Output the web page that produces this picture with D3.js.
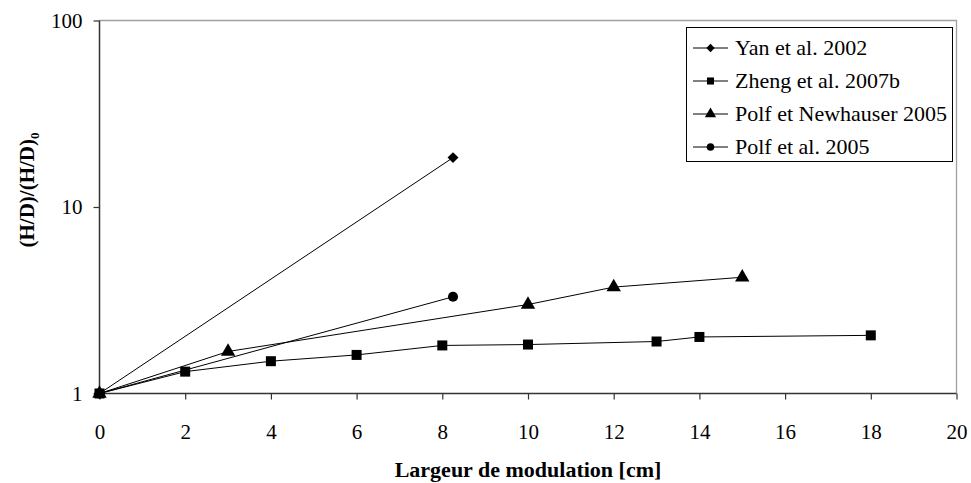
<!DOCTYPE html>
<html><head><meta charset="utf-8">
<script src="https://cdn.jsdelivr.net/npm/d3@7"></script>
<style>body{margin:0;background:#fff}svg{display:block}
svg text{font-family:"Liberation Serif",Tinos,"Times New Roman",Times,"DejaVu Serif",serif !important}</style>
</head><body><svg id="c" width="971" height="483"></svg>
<script>
const seriesNames = ["Yan et al. 2002","Zheng et al. 2007b","Polf et Newhauser 2005","Polf et al. 2005"];
const yanX = [0, 8.25];
const yanY = [1, 18.4];
const zhengX = [0, 2, 4, 6, 8, 10, 13, 14, 18];
const zhengY = [1, 1.31, 1.49, 1.61, 1.81, 1.83, 1.90, 2.01, 2.05];
const polfNX = [0, 3, 10, 12, 15];
const polfNY = [1, 1.68, 3.0, 3.72, 4.2];
const polfX = [0, 8.25];
const polfY = [1, 3.3];
const xTicks = [0,2,4,6,8,10,12,14,16,18,20];
const yTicks = [1,10,100];
const symbols = [d3.symbolSquare, d3.symbolSquare, d3.symbolTriangle, d3.symbolCircle];
const rotations = [45, 0, 0, 0];
const symSizes = [60, 100, 90, 80];
const legSizes = [35, 50, 55, 45];

const series = [
  {xs:yanX, ys:yanY}, {xs:zhengX, ys:zhengY}, {xs:polfNX, ys:polfNY}, {xs:polfX, ys:polfY}
].map((s,i)=>({name:seriesNames[i], pts:s.xs.map((x,j)=>[x,s.ys[j]]), sym:symbols[i], rot:rotations[i], size:symSizes[i], lsize:legSizes[i]}));

const FF = "'Liberation Serif', Tinos, 'Times New Roman', Times, 'DejaVu Serif', serif";
const svg = d3.select("#c");
const L=99.5, R=956.5, T=20.5, B=393.5;
const x = d3.scaleLinear().domain([0,20]).range([L,R]);
const y = d3.scaleLog().domain([1,100]).range([B,T]);

svg.append("path").attr("d",`M${L},${T}H${R}V${B}`).attr("fill","none").attr("stroke","#a0a0a0").attr("stroke-width",1.3);

const xa = svg.append("g").attr("transform",`translate(0,${B})`)
  .call(d3.axisBottom(x).tickValues(xTicks).tickFormat(d3.format("d")).tickSize(6).tickPadding(25));
const ya = svg.append("g").attr("transform",`translate(${L},0)`)
  .call(d3.axisLeft(y).tickValues(yTicks).tickFormat(d3.format("d")).tickSize(6).tickPadding(11));
[xa,ya].forEach(a=>{
  a.attr("font-family",FF);
  a.select(".domain").attr("stroke","#333").attr("stroke-width",1.5);
  a.selectAll(".tick line").attr("stroke","#333").attr("stroke-width",1.2);
  a.selectAll("text").attr("font-size",21).attr("fill","#000");
});
ya.select(".domain").attr("d",`M0,${B}V${T}`);
xa.select(".domain").attr("d",`M${L},0H${R}`);

const line = d3.line().x(d=>x(d[0])).y(d=>y(d[1]));
series.forEach(s=>{
  svg.append("path").attr("d",line(s.pts)).attr("fill","none").attr("stroke","#000").attr("stroke-width",1);
});
series.slice().reverse().forEach(s=>{
  svg.selectAll(null).data(s.pts).enter().append("path")
    .attr("d",d3.symbol(s.sym, s.size)())
    .attr("transform",d=>`translate(${x(d[0])},${y(d[1])}) rotate(${s.rot})`)
    .attr("fill","#000");
});

svg.append("text").attr("x",(L+R)/2).attr("y",477).attr("text-anchor","middle").attr("font-family",FF)
  .attr("font-size",22).attr("font-weight","bold").text("Largeur de modulation [cm]");
const yt = svg.append("text").attr("transform","translate(34,190) rotate(-90)").attr("text-anchor","middle").attr("font-family",FF)
  .attr("font-size",21).attr("font-weight","bold");
yt.append("tspan").text("(H/D)/(H/D)");
yt.append("tspan").attr("font-size",13).attr("dy",5).text("0");

const lg = svg.append("g");
lg.append("rect").attr("x",686.5).attr("y",27.5).attr("width",266).attr("height",134)
  .attr("fill","#fff").attr("stroke","#000").attr("stroke-width",1);
series.forEach((s,i)=>{
  const cy = 48 + i*33;
  lg.append("line").attr("x1",693).attr("x2",728).attr("y1",cy).attr("y2",cy).attr("stroke","#000").attr("stroke-width",1);
  lg.append("path").attr("d",d3.symbol(s.sym,s.lsize)()).attr("transform",`translate(710.5,${cy}) rotate(${s.rot})`).attr("fill","#000");
  lg.append("text").attr("x",735).attr("y",cy+7).attr("font-family",FF).attr("font-size",22).text(s.name);
});
</script></body></html>
